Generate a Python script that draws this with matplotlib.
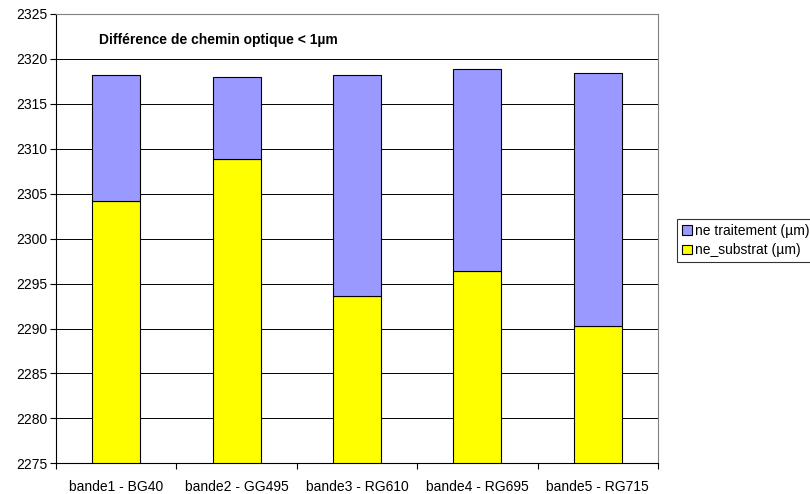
import matplotlib
matplotlib.use("Agg")
import matplotlib.pyplot as plt
from matplotlib.patches import Patch
import numpy as np

categories = ["bande1 - BG40", "bande2 - GG495", "bande3 - RG610", "bande4 - RG695", "bande5 - RG715"]
ne_substrat = [2304.14, 2308.82, 2293.63, 2296.45, 2290.33]
ne_traitement = [14.03, 9.16, 24.54, 22.43, 28.07]
yticks = [2275, 2280, 2285, 2290, 2295, 2300, 2305, 2310, 2315, 2320, 2325]

plt.rcParams['font.family'] = ['Liberation Sans', 'DejaVu Sans']

fig = plt.figure(figsize=(8.1, 4.94), dpi=100)
ax = fig.add_axes([56/810, 1-463.3/494, (658-56)/810, (463.3-14)/494])

x = np.arange(len(categories))
ymin = 2275
sub_h = [v - ymin for v in ne_substrat]
ax.bar(x, sub_h, bottom=ymin, width=0.4, color='#FFFF00', edgecolor='black', linewidth=0.8, zorder=3)
ax.bar(x, ne_traitement, bottom=ne_substrat, width=0.4, color='#9999FF', edgecolor='black', linewidth=0.8, zorder=3)

ax.set_ylim(2275, 2325)
ax.set_xlim(-0.5, len(categories) - 0.5)
ax.set_yticks(yticks)
ax.set_yticklabels([str(t) for t in yticks], fontsize=10)
ax.set_xticks(x)
ax.set_xticklabels(categories, fontsize=10)
ax.set_xticks(np.arange(len(categories) + 1) - 0.5, minor=True)
ax.tick_params(axis='x', which='major', length=0, pad=12)
ax.tick_params(axis='x', which='minor', length=4, color='black', width=0.8)
ax.tick_params(axis='y', length=4, color='black', width=0.8, pad=2)

ax.yaxis.grid(True, color='black', linewidth=0.7, zorder=0)
ax.set_axisbelow(True)
for s in ['top', 'right']:
    ax.spines[s].set_color('#808080')
    ax.spines[s].set_linewidth(0.8)
for s in ['left', 'bottom']:
    ax.spines[s].set_color('black')
    ax.spines[s].set_linewidth(0.8)

ax.text(0.071, 0.942, "Différence de chemin optique < 1µm", transform=ax.transAxes,
        fontsize=10, fontweight='bold', va='center', ha='left')

handles = [Patch(facecolor='#9999FF', edgecolor='black', linewidth=0.8),
           Patch(facecolor='#FFFF00', edgecolor='black', linewidth=0.8)]
leg = fig.legend(handles, ["ne traitement (µm)", "ne_substrat (µm)"],
                 loc='upper left', bbox_to_anchor=(677/810, 1-219/494),
                 fontsize=10, frameon=True, fancybox=False, edgecolor='black',
                 handlelength=0.7, handleheight=0.7, handletextpad=0.25,
                 borderpad=0.35, labelspacing=0.4, borderaxespad=0)
leg.get_frame().set_linewidth(0.8)

fig.savefig("out.png", dpi=100)
